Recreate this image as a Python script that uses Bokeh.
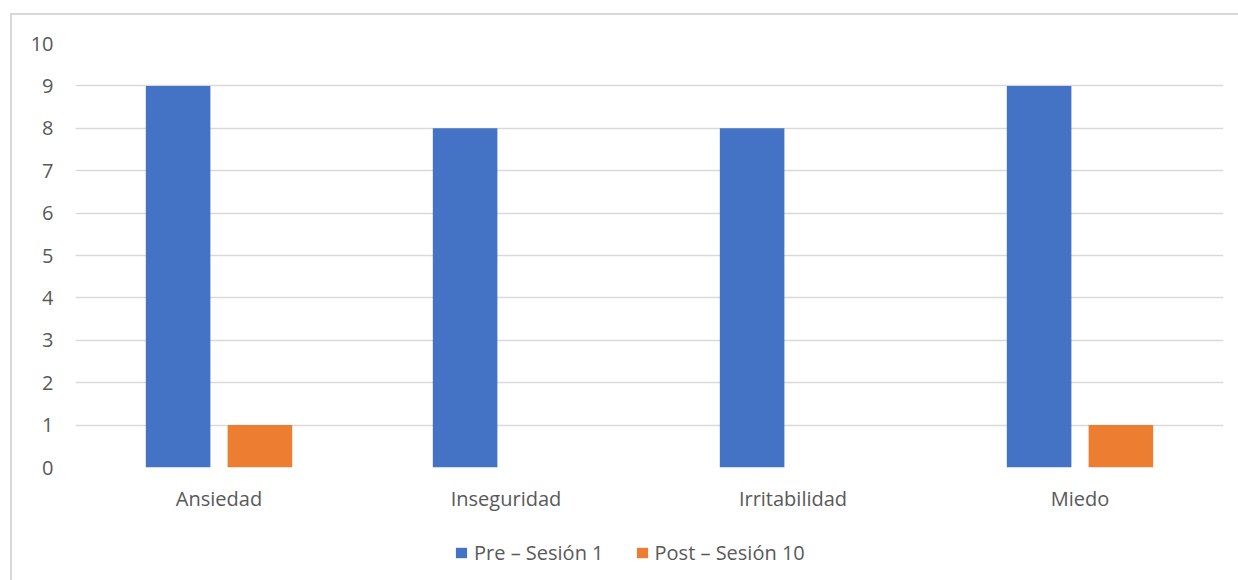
from bokeh.plotting import figure
from bokeh.layouts import column
from bokeh.models import ColumnDataSource, FactorRange, Range1d, FixedTicker, Legend, LegendItem
from bokeh.transform import dodge
from bokeh.embed import file_html
from bokeh.resources import INLINE

# Symptom scores before and after the intervention
categories = ["Ansiedad", "Inseguridad", "Irritabilidad", "Miedo"]
pre_sesion_1 = [9, 8, 8, 9]
post_sesion_10 = [1, 0, 0, 1]
y_ticks = [0, 1, 2, 3, 4, 5, 6, 7, 8, 9, 10]

series_names = ["Pre \u2013 Sesi\u00f3n 1", "Post \u2013 Sesi\u00f3n 10"]
BLUE = "#4472C4"
ORANGE = "#ED7D31"
TEXT = "#595959"
GRID = "#D9D9D9"
FONT = "Open Sans"

source = ColumnDataSource(dict(cat=categories, pre=pre_sesion_1, post=post_sesion_10))

# main bar chart
p = figure(
    x_range=FactorRange(*categories, range_padding=0),
    y_range=Range1d(0, 10),
    width=1228, height=507,
    output_backend="svg", toolbar_location=None,
    min_border_left=63, min_border_right=17,
    min_border_top=28, min_border_bottom=55,
)
p.outline_line_color = None
p.background_fill_color = "white"
p.border_fill_color = "white"

p.vbar(x=dodge("cat", -0.1425, range=p.x_range), top="pre", width=0.225,
       source=source, fill_color=BLUE, line_color=None)
p.vbar(x=dodge("cat", 0.1425, range=p.x_range), top="post", width=0.225,
       source=source, fill_color=ORANGE, line_color=None)

# y axis: labels only, horizontal grid lines
p.yaxis.ticker = FixedTicker(ticks=y_ticks)
p.yaxis.axis_line_color = None
p.yaxis.major_tick_line_color = None
p.yaxis.minor_tick_line_color = None
p.yaxis.major_tick_in = 0
p.yaxis.major_tick_out = 0
p.yaxis.major_label_standoff = 22
p.yaxis.major_label_text_font = FONT
p.yaxis.major_label_text_font_size = "20px"
p.yaxis.major_label_text_color = TEXT

p.ygrid.ticker = FixedTicker(ticks=y_ticks)
p.ygrid.grid_line_color = GRID
p.ygrid.grid_line_width = 1.5
p.xgrid.grid_line_color = None

p.xaxis.axis_line_color = None
p.xaxis.major_tick_line_color = None
p.xaxis.major_tick_in = 0
p.xaxis.major_tick_out = 0
p.xaxis.major_label_standoff = 17
p.xaxis.major_label_text_font = FONT
p.xaxis.major_label_text_font_size = "20px"
p.xaxis.major_label_text_color = TEXT

# legend strip underneath the chart; its view window lies above the bars,
# so only the legend keys are drawn
leg = figure(
    x_range=FactorRange(*categories, range_padding=0),
    y_range=Range1d(20, 21),
    width=1228, height=60,
    x_axis_type=None, y_axis_type=None,
    output_backend="svg", toolbar_location=None,
    min_border=0,
)
leg.outline_line_color = None
leg.xgrid.grid_line_color = None
leg.ygrid.grid_line_color = None
k_pre = leg.vbar(x="cat", top="pre", width=0.225, source=source,
                 fill_color=BLUE, line_color=None)
k_post = leg.vbar(x="cat", top="post", width=0.225, source=source,
                  fill_color=ORANGE, line_color=None)

legend = Legend(
    items=[LegendItem(label=series_names[0], renderers=[k_pre]),
           LegendItem(label=series_names[1], renderers=[k_post])],
    orientation="horizontal",
    location=(379, 16),
    padding=0, margin=0, spacing=31,
    glyph_width=14, glyph_height=13, label_standoff=6,
    label_text_font=FONT, label_text_font_size="20px", label_text_color=TEXT,
    border_line_color=None, background_fill_alpha=0,
)
leg.add_layout(legend, "center")

page = column(p, leg, spacing=0)
page.styles = {
    "margin-left": "10px", "margin-top": "13px",
    "border-left": f"2px solid {GRID}", "border-top": f"2px solid {GRID}",
}

open("out.html", "w").write(file_html(page, INLINE))
